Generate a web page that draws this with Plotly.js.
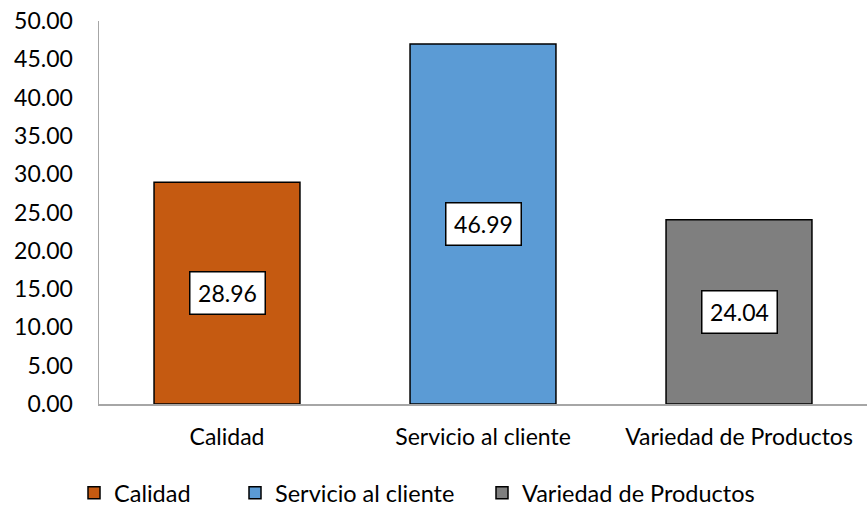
<!DOCTYPE html>
<html>
<head>
<meta charset="utf-8">
<script src="https://cdn.plot.ly/plotly-3.0.1.min.js"></script>
<style>html,body{margin:0;padding:0;background:#fff;}#chart{width:867px;height:506px;}</style>
</head>
<body>
<div id="chart"></div>
<script>
const categories = ["Calidad", "Servicio al cliente", "Variedad de Productos"];
const values = [28.96, 46.99, 24.04];
const colors = ["#C55A11", "#5B9BD5", "#7F7F7F"];
const yTicks = [0, 5, 10, 15, 20, 25, 30, 35, 40, 45, 50];

const FONT = "Lato, 'Open Sans', sans-serif";
const legendIds = ["legend", "legend2", "legend3"];
const legendX = [74, 235, 482];

const traces = categories.map((c, i) => ({
  type: "bar",
  name: c,
  x: [c],
  y: [values[i]],
  legend: legendIds[i],
  marker: { color: colors[i], line: { color: "#000000", width: 1.5 } },
  hoverinfo: "x+y"
}));

const annotations = categories.map((c, i) => ({
  x: c,
  y: values[i] / 2,
  xref: "x",
  yref: "y",
  text: values[i].toFixed(2),
  showarrow: false,
  font: { family: FONT, size: 23, color: "#000" },
  bgcolor: "#FFFFFF",
  bordercolor: "#000000",
  borderwidth: 1.5,
  borderpad: 4,
  width: 66,
  height: 33
}));

const layout = {
  width: 867,
  height: 506,
  margin: { l: 99, r: 0, t: 21, b: 102 },
  paper_bgcolor: "#FFFFFF",
  plot_bgcolor: "#FFFFFF",
  font: { family: FONT, size: 23, color: "#000" },
  barmode: "overlay",
  bargap: 0.43,
  xaxis: {
    type: "category",
    categoryarray: categories,
    showline: true,
    linecolor: "#A6A6A6",
    linewidth: 1.5,
    showgrid: false,
    ticks: "",
    ticklabelstandoff: 12,
    tickfont: { family: FONT, size: 23, color: "#000" },
    fixedrange: true
  },
  yaxis: {
    range: [0, 50],
    tickvals: yTicks,
    tickformat: ".2f",
    showline: true,
    linecolor: "#A6A6A6",
    linewidth: 1.5,
    showgrid: false,
    zeroline: false,
    ticks: "",
    ticklabelstandoff: 20,
    tickfont: { family: FONT, size: 23, color: "#000" },
    fixedrange: true
  },
  showlegend: true,
  annotations: annotations
};

legendIds.forEach((id, i) => {
  layout[id] = {
    orientation: "h",
    xref: "container",
    yref: "container",
    x: legendX[i] / 867,
    xanchor: "left",
    y: (506 - 493) / 506,
    yanchor: "middle",
    font: { family: FONT, size: 23.5, color: "#000" },
    itemwidth: 30,
    bgcolor: "rgba(0,0,0,0)"
  };
});

Plotly.newPlot("chart", traces, layout, { displayModeBar: false, staticPlot: true });
</script>
</body>
</html>
